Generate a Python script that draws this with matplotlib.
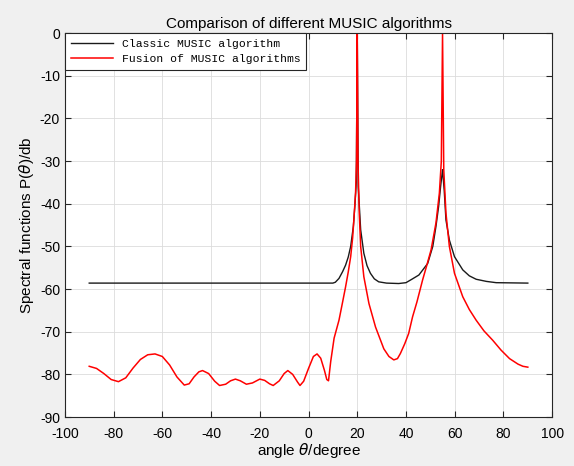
import matplotlib
matplotlib.use('Agg')
import matplotlib.pyplot as plt

plt.rcParams['font.family'] = ['Liberation Sans', 'DejaVu Sans']
plt.rcParams['axes.unicode_minus'] = False

# Classic MUSIC spectrum
classic_x = [-90, -60, -30, 0, 10, 11, 12.5, 14, 15.2, 16.3, 17.3, 18.4, 19, 19.6,
             20, 20.4, 20.9, 21.4, 22.7, 24, 25.4, 27, 28.8, 32, 37, 40, 42.4,
             45.3, 48.9, 51, 52.3, 53.4, 54.2, 55, 55.7, 56.4, 57.8, 59.9, 63.3,
             66, 68.8, 73, 77, 90]
classic_y = [-58.6, -58.6, -58.6, -58.6, -58.6, -58.4, -57.5, -55.9, -54.4, -52.5,
             -50, -45.3, -40.6, -35, 0, -36, -41, -46.1, -51.6, -54.5, -56.3,
             -57.6, -58.3, -58.6, -58.7, -58.5, -57.7, -56.7, -54, -50, -45.3,
             -40.6, -36, -32, -37, -43.8, -48.5, -52.4, -55.5, -56.9, -57.7,
             -58.2, -58.5, -58.6]

# Fusion of MUSIC algorithms
fusion_x = [-90, -87, -84, -81, -78, -75, -72, -69, -66, -63, -60, -57, -54, -51,
            -49, -47, -45, -43.5, -41, -38.5, -36.5, -34, -32, -30, -28, -25.5,
            -23, -20, -18, -16, -14.5, -12, -10, -8.5, -6.5, -4.5, -3.5, -2, 0,
            2, 3.5, 5, 6.5, 7.5, 8.2, 9.1, 10.5, 12.5, 14, 15.2, 16.3, 17.3, 18.1,
            18.6, 19.3, 19.7, 20, 20.3, 20.8, 21.4, 22.7, 24.8, 27.5, 30.9, 33,
            35, 36.5, 37.7, 39.5, 41.1, 42.7, 44.5, 46.8, 48.5, 50.3, 52.3, 53.7,
            54.5, 55, 55.5, 56.4, 57.8, 59.9, 63.3, 66, 68.8, 72, 75.6, 79, 82.5,
            86, 88, 90]
fusion_y = [-78.1, -78.6, -79.8, -81.2, -81.7, -80.8, -78.5, -76.5, -75.4, -75.2,
            -75.8, -77.8, -80.6, -82.5, -82.2, -80.6, -79.4, -79.1, -79.8, -81.6,
            -82.6, -82.3, -81.5, -81.1, -81.5, -82.3, -82.0, -81.1, -81.4, -82.2,
            -82.6, -81.5, -79.8, -79.1, -80.0, -81.8, -82.6, -81.6, -78.6, -75.8,
            -75.2, -76.2, -79, -81.2, -81.5, -77, -71.5, -67.3, -63, -59.5, -56,
            -52.4, -48, -43.8, -37.5, -30, 0, -30, -42, -50, -57.1, -63.4, -68.9,
            -74, -75.8, -76.6, -76.3, -75.1, -72.8, -70.4, -66.5, -63, -57.9,
            -54.5, -50.8, -44.5, -37.5, -30, 0, -32, -42.2, -50, -56.3, -61.8,
            -64.8, -67.3, -69.8, -72, -74.3, -76.3, -77.6, -78.1, -78.3]

fig = plt.figure(figsize=(5.74, 4.66), dpi=100, facecolor='#f0f0f0')
ax = fig.add_axes([0.113, 0.105, 0.849, 0.824])

ax.plot(classic_x, classic_y, color='#1a1a1a', linewidth=1.0,
        label='Classic MUSIC algorithm')
ax.plot(fusion_x, fusion_y, color='red', linewidth=1.1,
        label='Fusion of MUSIC algorithms')

ax.set_xlim(-100, 100)
ax.set_ylim(-90, 0)
ax.set_xticks(range(-100, 101, 20))
ax.set_yticks(range(-90, 1, 10))
ax.tick_params(direction='in', top=True, right=True, labelsize=10,
               color='#262626', length=4)
ax.tick_params(axis='x', pad=7)
ax.grid(True, color='#dcdcdc', linewidth=0.6)
for s in ax.spines.values():
    s.set_color('#262626')

ax.set_title('Comparison of different MUSIC algorithms', fontsize=11, pad=4)
ax.set_xlabel(r'angle $\theta$/degree', fontsize=11, labelpad=0)
ax.set_ylabel(r'Spectral functions P($\theta$)/db', fontsize=11, labelpad=3)

leg = ax.legend(loc='upper left', borderaxespad=0, fancybox=False,
                framealpha=1, edgecolor='#262626', handlelength=3.7,
                borderpad=0.5, prop={'family': 'Liberation Mono', 'size': 8.2})
leg.get_frame().set_linewidth(0.8)

fig.savefig('out.png', dpi=100, facecolor=fig.get_facecolor())
